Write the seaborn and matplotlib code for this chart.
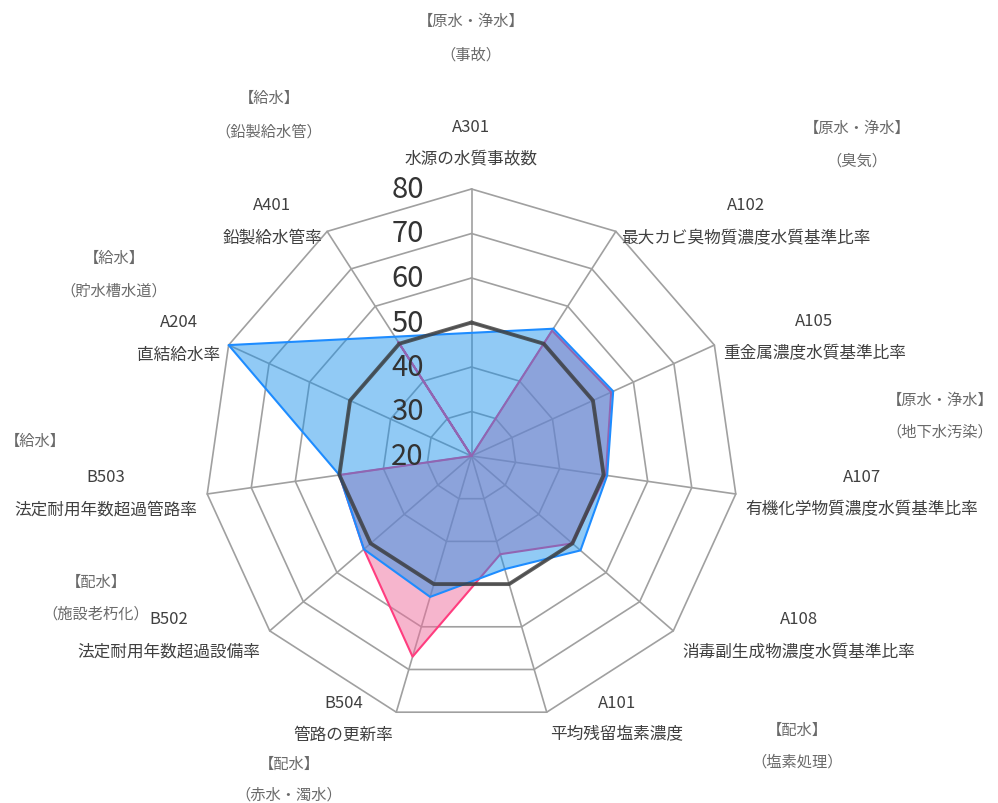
import numpy as np
import matplotlib.pyplot as plt
import seaborn as sns

# ---- data (clockwise from the top) ----
codes = ['A301', 'A102', 'A105', 'A107', 'A108', 'A101',
         'B504', 'B502', 'B503', 'A204', 'A401']
names = ['水源の水質事故数', '最大カビ臭物質濃度水質基準比率', '重金属濃度水質基準比率',
         '有機化学物質濃度水質基準比率', '消毒副生成物濃度水質基準比率', '平均残留塩素濃度',
         '管路の更新率', '法定耐用年数超過設備率', '法定耐用年数超過管路率',
         '直結給水率', '鉛製給水管率']
avg_values = [50, 50, 50, 50, 50, 50, 50, 50, 50, 50, 50]
blue_values = [np.nan, 54.0, 55.0, 50.8, 52.4, 46.5, 53.0, 52.0, 50.0, 80.0, np.nan]
pink_values = [20.0, 53.5, 54.5, 50.5, 50.0, 43.0, 67.0, 52.0, 50.0, 20.0, 50.5]
r_ticks = [20, 30, 40, 50, 60, 70, 80]

group_titles = ['【原水・浄水】', '【給水】', '【原水・浄水】', '【給水】', '【原水・浄水】',
                '【給水】', '【配水】', '【配水】', '【配水】']
group_subs = ['（事故）', '（鉛製給水管）', '（臭気）', '（貯水槽水道）', '（地下水汚染）',
              '', '（施設老朽化）', '（塩素処理）', '（赤水・濁水）']

# ---- layout (pixels) ----
W, H = 998, 804
cx, cy, R = 471.5, 457, 267
# group label: centre x, y of first line, y of second line (from top)
group_pos = [(471, 21, 55), (269, 98, 132), (857, 128, 161), (114, 258, 291),
             (940, 400, 432), (35, 441, None), (96, 582, 614), (797, 730, 762),
             (289, 764, 795)]
# category label offsets from the outer vertex: (dx, dy code line, dy name line)
label_off = [(0, -63, -30), (130, -27, 6), (100, -25, 8), (126, -17, 15),
             (126, -12, 21), (70, -10, 22), (-53, -10, 22), (-101, -12, 20),
             (-101, -17, 15), (-50, -24, 9), (-55, -27, 6)]

sns.set_theme(style='white')
plt.rcParams['font.family'] = ['Noto Sans CJK JP', 'DejaVu Sans']

fig = plt.figure(figsize=(W / 100, H / 100), dpi=100)
ax = fig.add_axes([(cx - R) / W, (H - cy - R) / H, 2 * R / W, 2 * R / H],
                  projection='polar')
ax.set_theta_zero_location('N')
ax.set_theta_direction(-1)

n = len(codes)
angles = np.arange(n) * 2 * np.pi / n
closed = np.append(angles, angles[0])

# polygon grid
for v in r_ticks[1:]:
    ax.plot(closed, [v] * (n + 1), color='#a0a0a0', lw=1.2, zorder=1, clip_on=False)
for a in angles:
    ax.plot([a, a], [r_ticks[0], r_ticks[-1]], color='#a0a0a0', lw=1.2, zorder=1,
            clip_on=False)

# pink series
pv = np.append(pink_values, pink_values[0])
ax.fill(closed, pv, color='#ef6d9d', alpha=0.5, lw=0, zorder=2)
ax.plot(closed, pv, color='#ff3d7f', lw=1.5, zorder=2.1, clip_on=False)

# blue series (blank points are skipped, neighbours connected)
bv = np.array(blue_values)
mask = ~np.isnan(bv)
b_ang = np.append(angles[mask], angles[mask][0])
b_val = np.append(bv[mask], bv[mask][0])
ax.fill(b_ang, b_val, color='#1991eb', alpha=0.48, lw=0, zorder=3)
ax.plot(b_ang, b_val, color='#1e8cff', lw=1.5, zorder=3.1, clip_on=False)

# average line
ax.plot(closed, np.append(avg_values, avg_values[0]), color='#3a3a3a', lw=2.8,
        alpha=0.8, zorder=4, clip_on=False)

ax.set_ylim(r_ticks[0], r_ticks[-1])
ax.set_xticks([])
ax.set_yticks([])
ax.grid(False)
ax.spines['polar'].set_visible(False)
ax.patch.set_alpha(0)

# radial tick labels left of the top axis
for v in r_ticks:
    ax.annotate(str(v), xy=(0, v), xytext=(-64, 0), textcoords='offset pixels',
                ha='center', va='center', fontsize=21, color='#333333', zorder=6,
                annotation_clip=False)

# category labels
for a, code, name, (dx, dy1, dy2) in zip(angles, codes, names, label_off):
    ax.annotate(code, xy=(a, r_ticks[-1]), xytext=(dx, -dy1), textcoords='offset pixels',
                ha='center', va='center', fontsize=12, color='#404040',
                annotation_clip=False)
    ax.annotate(name, xy=(a, r_ticks[-1]), xytext=(dx, -dy2), textcoords='offset pixels',
                ha='center', va='center', fontsize=12, color='#404040',
                annotation_clip=False)

# group labels
for title, sub, (gx, gy1, gy2) in zip(group_titles, group_subs, group_pos):
    fig.text(gx / W, 1 - gy1 / H, title, ha='center', va='center', fontsize=11,
             color='#6a6a6a')
    if sub:
        fig.text(gx / W, 1 - gy2 / H, sub, ha='center', va='center', fontsize=11,
                 color='#6a6a6a')

fig.savefig('out.png', dpi=100)
